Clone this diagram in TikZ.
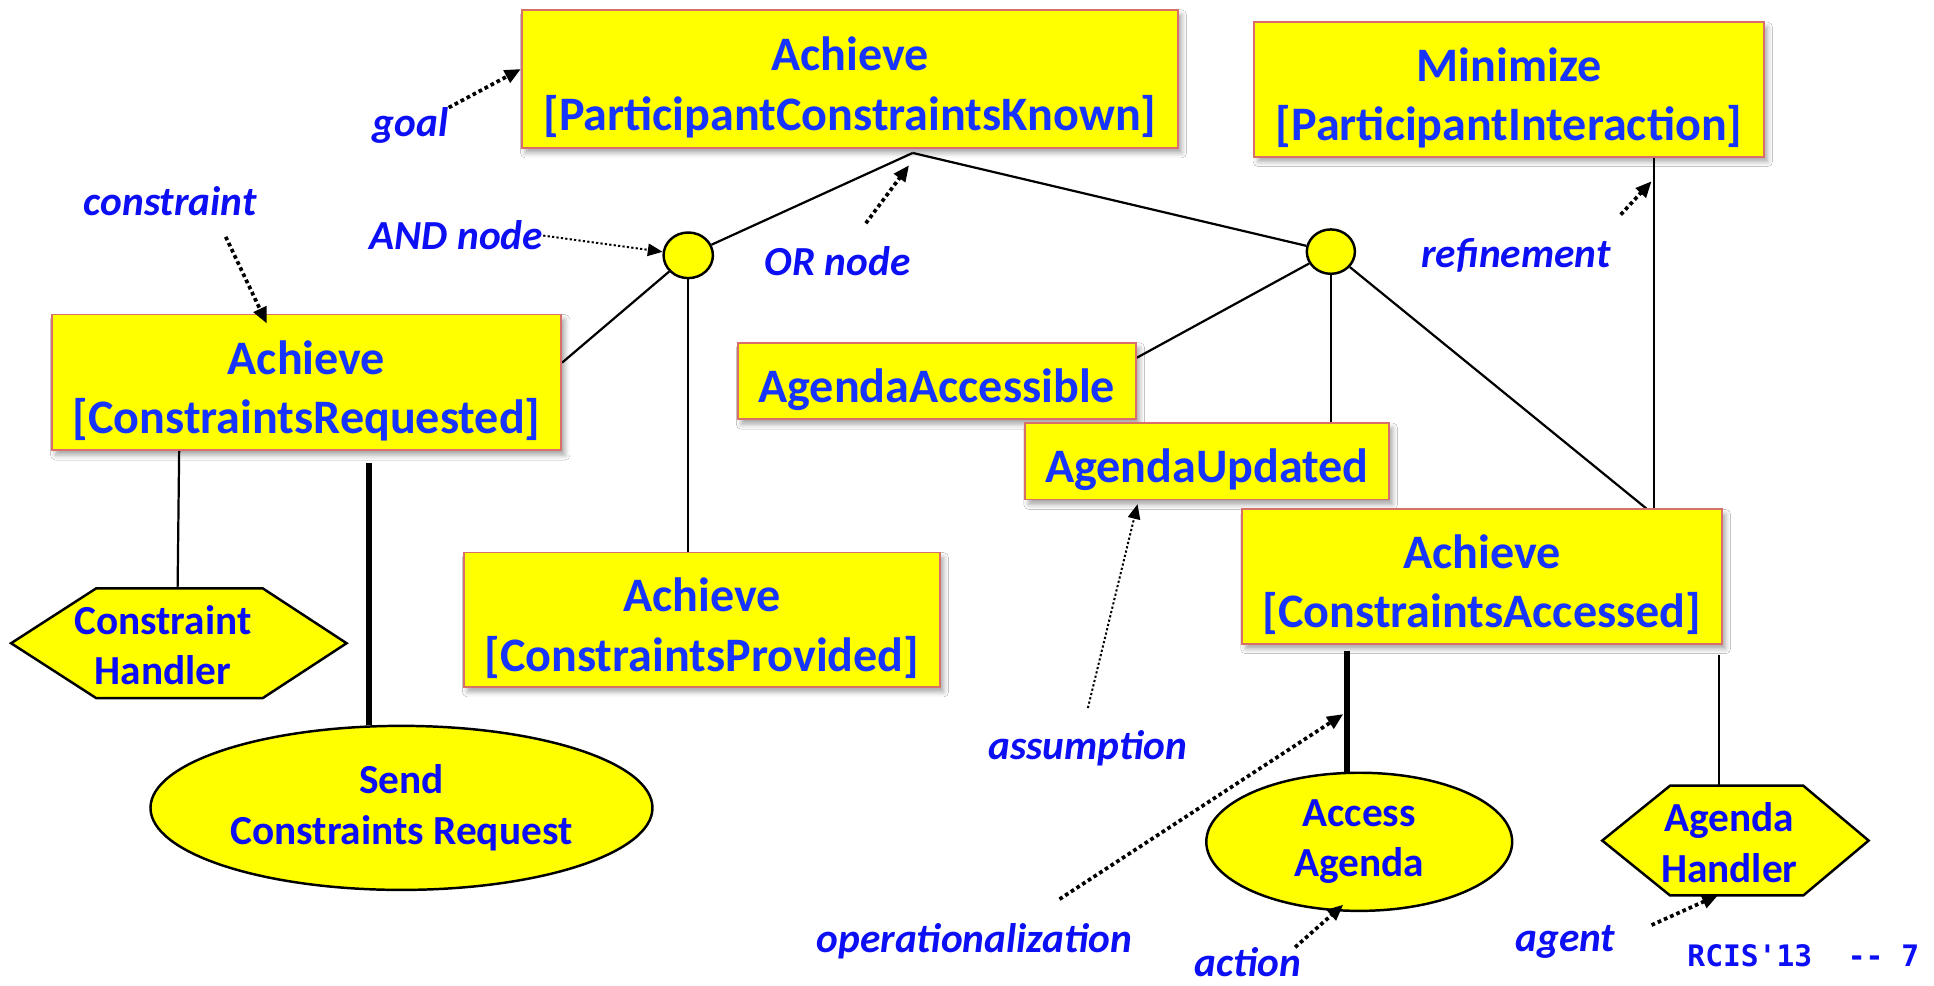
\documentclass[tikz,border=0pt]{standalone}
\usepackage{fontspec}
\setmainfont{Carlito}
\newfontfamily\slidemono[Ligatures=TeXOff]{DejaVu Sans Mono}
\usetikzlibrary{shapes.geometric,arrows.meta,shadows.blur,backgrounds}

\definecolor{goalyellow}{RGB}{255,255,0}
\definecolor{boxedge}{RGB}{214,112,104}
\definecolor{goalink}{RGB}{22,52,252}
\definecolor{inkblue}{RGB}{12,14,244}

\newcommand{\goalfont}{\bfseries\fontsize{39}{48}\selectfont}
\newcommand{\partfont}{\bfseries\fontsize{33.5}{41}\selectfont}
\newcommand{\notefont}{\bfseries\itshape\fontsize{33.5}{40}\selectfont}
% taller first line: pushes goal labels a little below the box centre
\newcommand{\capstrut}{\rule{0pt}{41pt}}

\begin{document}
\begin{tikzpicture}[x=1pt,y=-1pt,
  goalbox/.style={rectangle, draw=boxedge, line width=1.5pt, fill=goalyellow,
    inner sep=0pt, align=center, text=goalink, font=\goalfont,
    blur shadow={shadow xshift=3pt, shadow yshift=-4pt, shadow blur radius=4pt, shadow opacity=35}},
  gate/.style={ellipse, draw=black, line width=2pt, fill=goalyellow, inner sep=0pt},
  actionell/.style={ellipse, draw=black, line width=2pt, fill=goalyellow, inner sep=0pt,
    align=center, text=inkblue, font=\partfont},
  agenttext/.style={rectangle, inner sep=0pt, align=center, text=inkblue, font=\partfont},
  hexagonline/.style={draw=black, line width=2pt, fill=goalyellow, line join=miter},
  link/.style={draw=black, line width=1.8pt},
  oplink/.style={draw=black, line width=5pt},
  note/.style={inner sep=0pt, text=inkblue, font=\notefont},
  hint/.style={draw=black, line width=3pt, dash pattern=on 3pt off 2.5pt,
    -{Triangle[length=13pt,width=11pt]}},
  finehint/.style={draw=black, line width=1.6pt, dash pattern=on 1.8pt off 1.8pt,
    -{Triangle[length=12pt,width=10pt]}},
]
\useasboundingbox (0,0) rectangle (1568,799);

% goals
\node[goalbox, minimum width=532pt, minimum height=112pt] (pck) at (689,64)
  {\capstrut Achieve\\{[}ParticipantConstraintsKnown{]}};
\node[goalbox, minimum width=413pt, minimum height=109pt] (minb) at (1223.5,72.5)
  {\capstrut Minimize\\{[}ParticipantInteraction{]}};
\node[goalbox, minimum width=413pt, minimum height=110pt] (req) at (248.5,310)
  {\capstrut Achieve\\{[}ConstraintsRequested{]}};
\node[goalbox, minimum width=386pt, minimum height=109pt] (prov) at (569,502.5)
  {\capstrut Achieve\\{[}ConstraintsProvided{]}};
\node[goalbox, minimum width=323pt, minimum height=62pt] (acc) at (759.5,309)
  {\capstrut AgendaAccessible};
\node[goalbox, minimum width=295pt, minimum height=62pt] (upd) at (978.5,374)
  {\capstrut AgendaUpdated};
\node[goalbox, minimum width=389pt, minimum height=109pt] (cacc) at (1201.5,467.5)
  {\capstrut Achieve\\{[}ConstraintsAccessed{]}};

% refinement nodes
\node[gate, minimum width=40pt, minimum height=37pt] (andc) at (558,207) {};
\node[gate, minimum width=39pt, minimum height=36pt] (orc) at (1079,204) {};
\coordinate (orpt) at (740,124);

% actions
\node[actionell, minimum width=407pt, minimum height=133pt] (send) at (325.5,655)
  {Send\\Constraints Request};
\node[actionell, minimum width=248pt, minimum height=112pt] (acce) at (1102,682.5)
  {Access\\Agenda};

% agents
\node[agenttext, minimum width=135pt, minimum height=89pt] (chex) at (132,523)
  {Constraint\\Handler};
\node[agenttext, minimum width=108pt, minimum height=89pt] (ahex) at (1402,683)
  {Agenda\\Handler};

\begin{scope}[on background layer]
  \fill[white] (0,0) rectangle (1568,799);
  \filldraw[hexagonline] ([shift={(-123pt,1.5pt)}]chex.center) -- ([shift={(-54pt,46pt)}]chex.center)
    -- ([shift={(81pt,46pt)}]chex.center) -- ([shift={(149pt,1.5pt)}]chex.center)
    -- ([shift={(81pt,-43pt)}]chex.center) -- ([shift={(-54pt,-43pt)}]chex.center) -- cycle;
  \filldraw[hexagonline] ([shift={(-103pt,1.5pt)}]ahex.center) -- ([shift={(-48pt,46pt)}]ahex.center)
    -- ([shift={(60pt,46pt)}]ahex.center) -- ([shift={(113pt,1.5pt)}]ahex.center)
    -- ([shift={(60pt,-43pt)}]ahex.center) -- ([shift={(-48pt,-43pt)}]ahex.center) -- cycle;

  % refinement links
  \draw[link] (orpt) -- (andc);
  \draw[link] (orpt) -- (orc);
  \draw[link] (andc) -- ([yshift=16pt]req.east);
  \draw[link] (andc.south) -- (andc.south |- prov.north);
  \draw[link] (orc) -- ([yshift=19pt]acc.east);
  \draw[link] (orc.south) -- (orc.south |- upd.north);
  \draw[link] (orc) -- ([xshift=-62pt]cacc.north east);
  \coordinate (reftop) at ([xshift=-56pt]cacc.north east);
  \draw[link] (reftop) -- (reftop |- minb.south);

  % responsibility links
  \draw[link] ([xshift=104pt]req.south west) -- ([shift={(12pt,1.5pt)}]chex.north);
  \coordinate (handtop) at ([xshift=-3pt,yshift=-8pt]cacc.south east);
  \draw[link] (handtop) -- ([yshift=1.5pt]handtop |- ahex.north);

  % operationalization links
  \coordinate (sendtop) at ([xshift=258pt,yshift=-10pt]req.south west);
  \draw[oplink] (sendtop) -- (sendtop |- send.north);
  \coordinate (accesstop) at ([xshift=86pt,yshift=-5pt]cacc.south west);
  \draw[oplink] (accesstop) -- (accesstop |- acce.north);
\end{scope}

% annotations
\node[note] (goall) at (333,102) {goal};
\draw[hint] (goall.north east) -- ([yshift=8pt]pck.west);

\node[note] (consl) at (138,163) {constraint};
\coordinate (constail) at (183,192);
\draw[hint] (constail) -- ([xshift=175pt,yshift=-8pt]req.north west);

\node[note] (andl) at (370,191) {AND node};
\draw[finehint] (andl.east) -- (andc);

\node[note] (orl) at (679,212) {OR node};
\coordinate (ortail) at (702,181);
\draw[hint] (ortail) -- ([shift={(-3pt,-10pt)}]orpt);

\node[note] (refl) at (1229,207) {refinement};
\coordinate (reftail) at (1314,174);
\coordinate (reftip) at (1339,147);
\draw[hint] (reftail) -- (reftip);

\node[note] (asml) at (882,607) {assumption};
\coordinate (asmtail) at (882,574);
\draw[finehint] (asmtail) -- ([xshift=92pt,yshift=-3pt]upd.south west);

\node[note] (opl) at (790,763) {operationalization};
\coordinate (optail) at (859,729);
\coordinate (optip) at (1089,579);
\draw[hint] (optail) -- (optip);

\node[note] (actl) at (1012,780) {action};
\coordinate (acttail) at (1050,768);
\draw[hint] (acttail) -- ([shift={(-13pt,6pt)}]acce.south);

\node[note] (agl) at (1269,764) {agent};
\coordinate (agtail) at (1339,750);
\draw[hint] (agtail) -- ([xshift=-9pt,yshift=2pt]ahex.south);

\node[inner sep=0pt, text=inkblue, font=\slidemono\bfseries\fontsize{24}{28}\selectfont]
  (slide) at (1462,775) {RCIS'13~~-- 7};
\end{tikzpicture}
\end{document}
